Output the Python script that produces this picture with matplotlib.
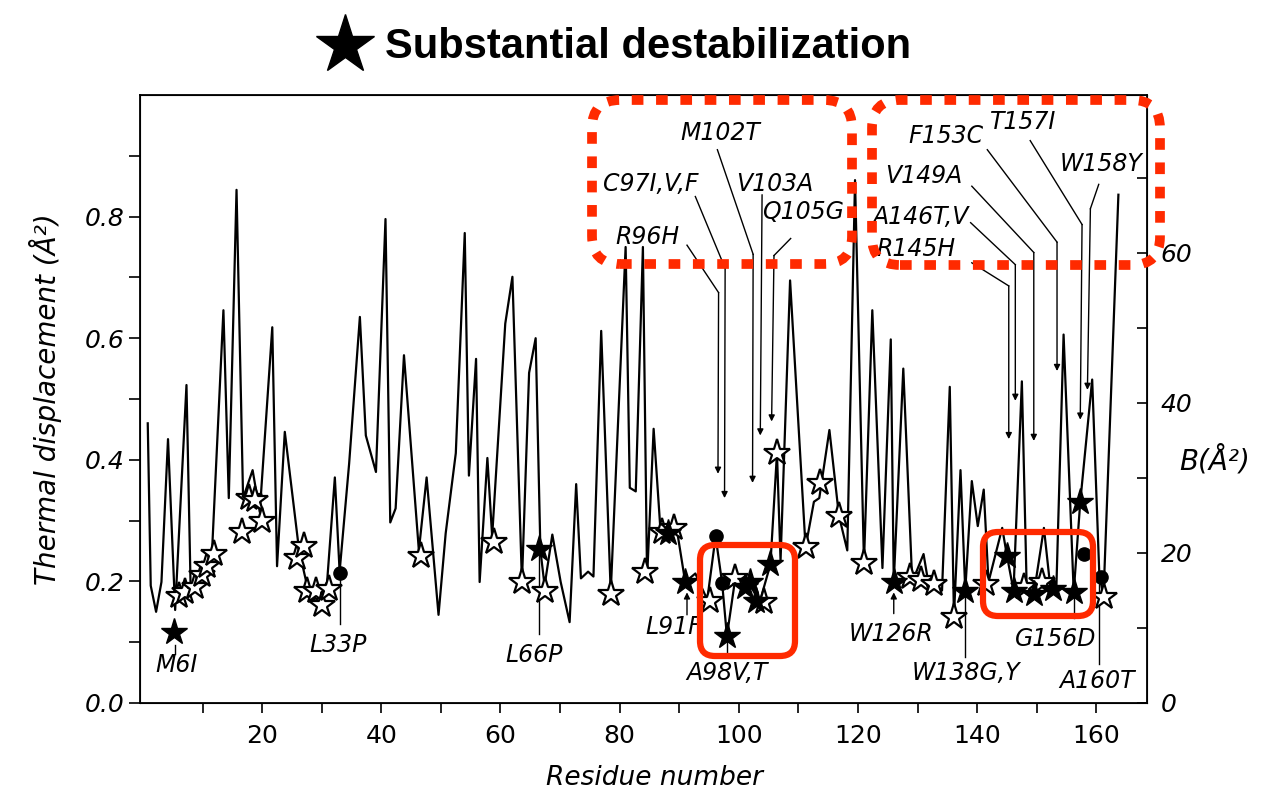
import matplotlib
matplotlib.use("Agg")
import matplotlib.pyplot as plt
from matplotlib.patches import FancyBboxPatch

# trace of thermal displacement vs residue (peaks and valleys)
res = [0.8, 1.3, 2.2, 3.1, 4.2, 5.4, 7.3, 8.0, 11.6, 13.5, 14.4, 15.7, 16.8, 18.4, 19.6,
       21.7, 22.5, 23.8, 26.2, 27.8, 29.2, 30.9, 32.2, 33.0, 34.6, 36.4, 37.4, 39.1, 40.7, 41.5,
       42.4, 43.8, 46.3, 47.6, 49.6, 50.8, 52.5, 54.0, 54.7, 55.9, 56.5, 57.8, 58.6, 60.8, 62.0,
       63.6, 64.8, 65.9, 66.7, 67.4, 68.7, 70.1, 71.6, 72.7, 73.5, 74.7, 75.6, 76.9, 78.5, 81.0,
       81.7, 82.7, 83.9, 84.6, 85.7, 86.8, 89.6, 91.0, 92.7, 94.7, 96.1, 97.2, 98.0, 99.4, 101.6,
       103.5, 105.3, 106.4, 107.0, 108.6, 111.2, 112.6, 113.5, 115.2, 116.8, 118.2, 119.5, 121.0,
       122.4, 124.1, 125.5, 126.0, 127.6, 129.1, 131.0, 131.9, 133.0, 134.1, 135.4, 136.1, 137.2,
       138.0, 139.1, 140.1, 141.1, 141.9, 144.2, 145.0, 146.1, 147.5, 148.3, 149.5, 151.2, 152.3,
       153.3, 154.5, 156.2, 157.3, 159.3, 160.5, 161.2, 163.7]
disp = [0.46, 0.193, 0.150, 0.199, 0.434, 0.153, 0.523, 0.188, 0.251, 0.646, 0.337, 0.844, 0.337,
        0.383, 0.314, 0.618, 0.225, 0.446, 0.251, 0.182, 0.170, 0.199, 0.371, 0.216, 0.394, 0.635,
        0.440, 0.380, 0.796, 0.297,
        0.320, 0.572, 0.251, 0.371, 0.145, 0.279, 0.411, 0.773, 0.374, 0.566, 0.199, 0.403, 0.274,
        0.624, 0.701, 0.199, 0.543, 0.600, 0.251, 0.193, 0.277, 0.199, 0.133, 0.360, 0.205, 0.216,
        0.208, 0.612, 0.182, 0.75, 0.354, 0.348, 0.75, 0.205,
        0.451, 0.291, 0.285, 0.199, 0.213, 0.170, 0.274, 0.197, 0.110, 0.205, 0.199, 0.166, 0.228,
        0.411, 0.234, 0.695, 0.256, 0.331, 0.337, 0.449, 0.308, 0.251, 0.86, 0.231, 0.646, 0.222,
        0.598, 0.199,
        0.55, 0.199, 0.245, 0.192, 0.195, 0.185, 0.520, 0.142, 0.383, 0.185, 0.365, 0.291, 0.351,
        0.199, 0.288, 0.242, 0.185, 0.529, 0.193, 0.179, 0.288, 0.188, 0.193, 0.606, 0.182, 0.331,
        0.532, 0.211, 0.175, 0.836]

# open stars
open_x = [6.0, 7.1, 8.8, 9.9, 10.8, 11.9, 16.7, 17.8, 18.8, 20.0, 25.9, 27.0, 27.6, 29.0, 30.1, 31.2,
          46.6, 58.9, 63.6, 67.4, 78.5, 84.3, 87.1, 89.1, 95.2, 99.4, 104.2, 106.4, 111.2, 113.7,
          116.8, 121.0, 128.8, 130.5, 132.7, 136.1, 141.4, 147.8, 150.9, 161.3]
open_y = [0.176, 0.182, 0.190, 0.210, 0.225, 0.245, 0.282, 0.337, 0.334, 0.300, 0.239, 0.259, 0.185,
          0.185, 0.161, 0.188, 0.242, 0.265, 0.199, 0.185, 0.179, 0.216, 0.282, 0.288, 0.168, 0.205,
          0.166, 0.411, 0.256, 0.362, 0.308, 0.231, 0.208, 0.202, 0.195, 0.142, 0.195, 0.190, 0.199,
          0.175]

# filled stars = substantial destabilization
full_x = [5.2, 66.4, 88.1, 91.0, 98.0, 101.0, 101.9, 102.9, 105.3, 126.0, 138.0, 145.0, 146.1,
          149.5, 152.8, 156.2, 157.3]
full_y = [0.116, 0.254, 0.279, 0.199, 0.110, 0.190, 0.199, 0.168, 0.228, 0.199, 0.185, 0.242, 0.185,
          0.179, 0.188, 0.182, 0.331]

# filled circles
dot_x = [33.0, 96.1, 97.2, 157.9, 160.7]
dot_y = [0.213, 0.274, 0.197, 0.245, 0.208]

# mutation labels above the trace, with leader lines ending in an arrow
top_labels = ["M102T", "C97I,V,F", "R96H", "V103A", "Q105G",
              "R145H", "A146T,V", "V149A", "F153C", "T157I", "W158Y"]
top_lx = [96.9, 85.2, 84.7, 106.1, 110.8, 129.8, 130.5, 131.0, 134.7, 147.8, 160.8]
top_ly = [0.938, 0.853, 0.767, 0.853, 0.808, 0.746, 0.80, 0.867, 0.932, 0.956, 0.886]
top_paths = [
    [(96.4, 0.910), (102.4, 0.738), (102.3, 0.362)],
    [(92.7, 0.833), (97.7, 0.715), (97.6, 0.337)],
    [(91.3, 0.753), (96.6, 0.675), (96.5, 0.377)],
    [(103.9, 0.836), (103.6, 0.44)],
    [(108.7, 0.764), (105.9, 0.736), (105.5, 0.463)],
    [(139.1, 0.724), (145.3, 0.686), (145.3, 0.434)],
    [(138.9, 0.79), (146.4, 0.721), (146.4, 0.497)],
    [(139.1, 0.85), (149.5, 0.741), (149.5, 0.431)],
    [(141.7, 0.91), (153.4, 0.758), (153.4, 0.546)],
    [(148.9, 0.925), (157.6, 0.787), (157.3, 0.466)],
    [(160.4, 0.853), (159.0, 0.813), (158.5, 0.515)],
]

# mutation labels below the trace
bot_labels = ["M6I", "L33P", "L66P", "L91F", "A98V,T", "W126R", "W138G,Y", "G156D", "A160T"]
bot_lx = [5.6, 32.8, 65.7, 89.0, 98.0, 125.5, 138.2, 153.1, 160.1]
bot_ly = [0.063, 0.096, 0.079, 0.125, 0.050, 0.114, 0.050, 0.105, 0.036]
bot_px = [5.3, 33.0, 66.5, 91.3, 98.0, 126.0, 138.0, 156.2, 160.5]
bot_from = [0.095, 0.213, 0.254, 0.145, 0.110, 0.147, 0.185, 0.182, 0.211]
bot_to = [0.080, 0.130, 0.114, 0.182, 0.084, 0.182, 0.076, 0.140, 0.064]
bot_arrow = [False, False, False, True, False, True, False, False, False]

RED = '#ff2a00'
lab_font = dict(family='DejaVu Sans', style='italic', fontsize=17)

fig = plt.figure(figsize=(12.67, 7.98), dpi=100)
ax = fig.add_axes([140 / 1267, 95 / 798, 1007 / 1267, 608 / 798])

ax.plot(res, disp, color='black', lw=1.6, zorder=2)
ax.plot(open_x, open_y, ls='none', marker='*', ms=20, mfc='white', mec='black', mew=1.6, zorder=3)
ax.plot(full_x, full_y, ls='none', marker='*', ms=20, mfc='black', mec='black', zorder=4)
ax.plot(dot_x, dot_y, ls='none', marker='o', ms=9.5, mfc='black', mec='black', zorder=4)

for lab, lx, ly, path in zip(top_labels, top_lx, top_ly, top_paths):
    ax.text(lx, ly, lab, ha='center', va='center', **lab_font)
    xs = [p[0] for p in path]
    ys = [p[1] for p in path]
    ax.plot(xs[:-1], ys[:-1], color='black', lw=1.0, clip_on=False)
    ax.annotate('', xy=path[-1], xytext=path[-2],
                arrowprops=dict(arrowstyle='-|>', color='black', lw=1.0,
                                mutation_scale=9, shrinkA=0, shrinkB=0))

for lab, lx, ly, px, y0, y1, arr in zip(bot_labels, bot_lx, bot_ly, bot_px, bot_from, bot_to, bot_arrow):
    ax.text(lx, ly, lab, ha='center', va='center', **lab_font)
    if arr:
        ax.annotate('', xy=(px, y1), xytext=(px, y0),
                    arrowprops=dict(arrowstyle='-|>', color='black', lw=1.0,
                                    mutation_scale=9, shrinkA=0, shrinkB=0))
    else:
        ax.plot([px, px], [y0, y1], color='black', lw=1.0)

ax.set_xlim(-0.5, 168.5)
ax.set_ylim(0, 1.0)
ax.set_xticks(range(10, 161, 10))
ax.set_xticklabels([str(v) if v % 20 == 0 else '' for v in range(10, 161, 10)])
ax.set_yticks([i / 10 for i in range(10)])
ax.set_yticklabels(['%.1f' % (i / 10) if i % 2 == 0 else '' for i in range(10)])
ax.tick_params(axis='x', direction='out', length=7, width=1.2, labelsize=18, pad=8)
ax.tick_params(axis='y', direction='out', length=8, width=1.2, labelsize=18, pad=3)
for lab in ax.get_yticklabels():
    lab.set_style('italic')
for sp in ax.spines.values():
    sp.set_linewidth(1.3)

ax.set_xlabel('Residue number', fontsize=19, style='italic', va='center')
ax.xaxis.set_label_coords(0.511, -0.123)
ax.set_ylabel('Thermal displacement (Å²)', fontsize=20, style='italic', va='center')
ax.yaxis.set_label_coords(-0.094, 0.5)

ax2 = ax.twinx()
ax2.set_ylim(0, 81)
ax2.set_yticks(range(0, 71, 10))
ax2.set_yticklabels([str(v) if v % 20 == 0 else '' for v in range(0, 71, 10)])
ax2.tick_params(axis='y', direction='in', length=7, width=1.2, labelsize=18, pad=10)
for lab in ax2.get_yticklabels():
    lab.set_style('italic')
ax2.set_ylabel('B(Å²)', fontsize=20, style='italic', rotation=0, va='center', ha='center')
ax2.yaxis.set_label_coords(1.0675, 0.40)

# highlight boxes (pixel layout, in inches)
tr = fig.dpi_scale_trans
for x0, y0, w, h in [(5.92, 5.34, 2.60, 1.64), (8.72, 5.33, 2.88, 1.65)]:
    fig.add_artist(FancyBboxPatch((x0, y0), w, h, boxstyle='round,pad=0,rounding_size=0.28',
                                  transform=tr, fill=False, edgecolor=RED, lw=7,
                                  linestyle=(0, (1.2, 1.3)), capstyle='butt', zorder=10))
for x0, y0, w, h in [(7.00, 1.42, 0.95, 1.11), (9.83, 1.82, 1.10, 0.84)]:
    fig.add_artist(FancyBboxPatch((x0, y0), w, h, boxstyle='round,pad=0,rounding_size=0.15',
                                  transform=tr, fill=False, edgecolor=RED, lw=4.5, zorder=10))

# legend-like title
fig.add_artist(plt.Line2D([345 / 1267], [1 - 45 / 798], marker='*', ms=44, color='black',
                          ls='none', transform=fig.transFigure))
fig.text(385 / 1267, 1 - 47 / 798, 'Substantial destabilization', fontsize=30,
         fontweight='bold', family='Liberation Sans', ha='left', va='center')

fig.savefig('out.png', dpi=100, facecolor='white')
